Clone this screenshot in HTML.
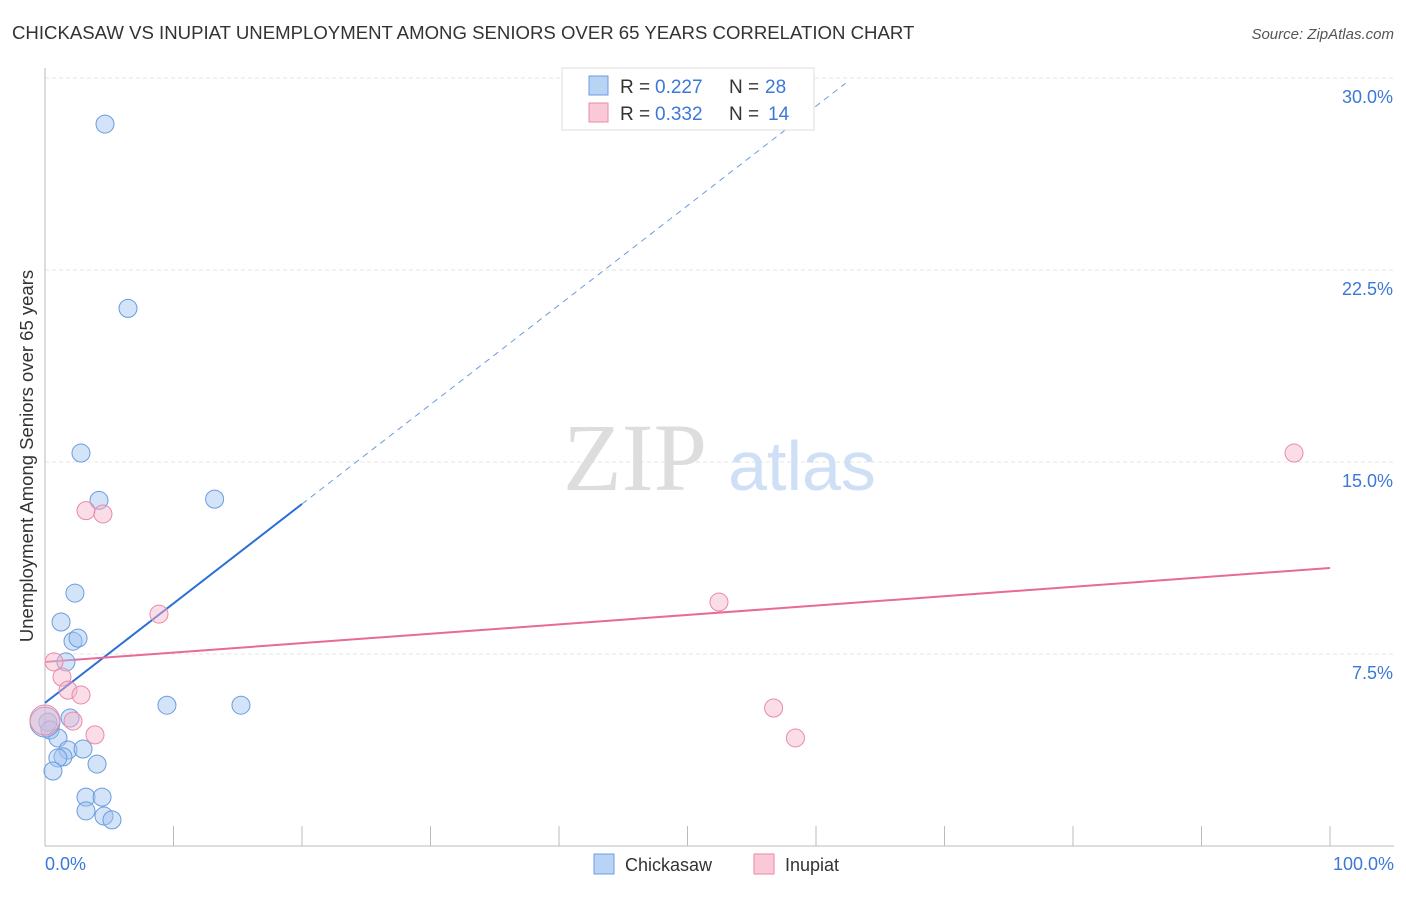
<!DOCTYPE html>
<html><head><meta charset="utf-8"><style>
body{margin:0;background:#fff;font-family:"Liberation Sans",sans-serif;}
</style></head><body>
<svg width="1406" height="892" xmlns="http://www.w3.org/2000/svg" style="font-family:'Liberation Sans',sans-serif">
<text x="12" y="39" font-size="18.6" fill="#333">CHICKASAW VS INUPIAT UNEMPLOYMENT AMONG SENIORS OVER 65 YEARS CORRELATION CHART</text>
<text x="1394" y="39" font-size="15" fill="#555" font-style="italic" text-anchor="end">Source: ZipAtlas.com</text>
<g id="grid"></g>
<text x="635" y="490" font-size="96" fill="#ddd" style="font-family:'Liberation Serif',serif" text-anchor="middle">ZIP</text>
<text x="802" y="490" font-size="70" fill="#cfdff5" text-anchor="middle">atlas</text>
<line x1="45" y1="68" x2="45" y2="846" stroke="#bbb"/>
<line x1="45" y1="846" x2="1394" y2="846" stroke="#bbb"/>
<g id="xt"></g><g id="lines"></g><g id="pts"></g>
<text x="33" y="456" font-size="18.5" fill="#333" text-anchor="middle" transform="rotate(-90 33 456)">Unemployment Among Seniors over 65 years</text>
<text x="45" y="870" font-size="18" fill="#3b78d8">0.0%</text>
<text x="1394" y="870" font-size="18" fill="#3b78d8" text-anchor="end">100.0%</text>
<g>
<rect x="562" y="68" width="252" height="62" fill="#fff" stroke="#ddd"/>
<rect x="589" y="76" width="19" height="19" fill="#b9d3f5" stroke="#6a9be0"/>
<text x="620" y="93" font-size="19" fill="#333">R = </text><text x="655" y="93" font-size="19" fill="#3b78d8">0.227</text>
<text x="729" y="93" font-size="19" fill="#333">N = </text><text x="765" y="93" font-size="19" fill="#3b78d8">28</text>
<rect x="589" y="103" width="19" height="19" fill="#f9c9d8" stroke="#e98aa8"/>
<text x="620" y="120" font-size="19" fill="#333">R = </text><text x="655" y="120" font-size="19" fill="#3b78d8">0.332</text>
<text x="729" y="120" font-size="19" fill="#333">N = </text><text x="768" y="120" font-size="19" fill="#3b78d8">14</text>
</g>
<g>
<rect x="594" y="854" width="20" height="20" fill="#b9d3f5" stroke="#6a9be0"/>
<text x="625" y="871" font-size="18" fill="#333">Chickasaw</text>
<rect x="754" y="854" width="20" height="20" fill="#f9c9d8" stroke="#e98aa8"/>
<text x="785" y="871" font-size="18" fill="#333">Inupiat</text>
</g>
</svg>
<script>
const yTicks=[7.5,15,22.5,30];
const yTickLabels=["7.5%","15.0%","22.5%","30.0%"];
const xTicks=[0,10,20,30,40,50,60,70,80,90,100];
const blueX=[4.67,6.46,2.8,4.2,13.2,2.33,1.25,2.18,2.57,1.63,9.49,15.25,1.95,0.23,0.39,1.01,1.79,2.96,4.05,1.4,1.0,0.62,3.19,4.44,3.19,4.59,5.21,0];
const blueY=[28.2,21.0,15.35,13.5,13.55,9.88,8.75,8.0,8.12,7.19,5.5,5.5,5.0,4.84,4.53,4.22,3.75,3.79,3.2,3.48,3.44,2.93,1.91,1.91,1.37,1.17,1.02,4.84];
const blueR=[9,9,9,9,9,9,9,9,9,9,9,9,9,9,9,9,9,9,9,9,9,9,9,9,9,9,9,15];
const pinkX=[3.19,4.51,8.87,0.7,1.32,1.79,2.8,2.18,3.89,52.45,56.7,58.4,97.2,0];
const pinkY=[13.1,12.97,9.06,7.19,6.6,6.09,5.9,4.88,4.34,9.53,5.39,4.22,15.35,4.92];
const pinkR=[9,9,9,9,9,9,9,9,9,9,9,9,9,15];
const blueLine=[5.59,13.36]; // y at x=0, x=20
const pinkLine=[7.19,10.86]; // y at x=0, x=100
const NS="http://www.w3.org/2000/svg";
const X=v=>45+v*12.85, Y=v=>846-v*25.6;
function mk(p,t,a){const e=document.createElementNS(NS,t);for(const k in a)e.setAttribute(k,a[k]);document.getElementById(p).appendChild(e);return e;}
yTicks.forEach((t,i)=>{
 const g=mk('grid','line',{x1:45,x2:1394,y1:Y(t),y2:Y(t),stroke:'#e4e4e4','stroke-dasharray':'4 3'});
 
 
 const l=mk('grid','text',{x:1393,y:Y(t)+25,'font-size':18,fill:'#3b78d8','text-anchor':'end'});
 l.textContent=yTickLabels[i];
 
 
});
xTicks.forEach(t=>{
 const e=mk('xt','line',{x1:X(t),x2:X(t),y1:826,y2:846,stroke:'#bbb'});
 
 
});
const slopeB=(blueLine[1]-blueLine[0])/20;
let e=mk('lines','line',{x1:X(0),y1:Y(blueLine[0]),x2:X(20),y2:Y(blueLine[1]),stroke:'#2a6fd6','stroke-width':2});


const xe=62.3;
e=mk('lines','line',{x1:X(20),y1:Y(blueLine[1]),x2:X(xe),y2:Y(blueLine[0]+slopeB*xe),stroke:'#6a9be0','stroke-width':1,'stroke-dasharray':'6 5'});


e=mk('lines','line',{x1:X(0),y1:Y(pinkLine[0]),x2:X(100),y2:Y(pinkLine[1]),stroke:'#e8699a','stroke-width':2});


blueX.forEach((x,i)=>{
 const c=mk('pts','circle',{cx:X(x),cy:Y(blueY[i]),r:blueR[i],fill:'rgba(160,196,240,0.45)',stroke:'#6a9be0','stroke-width':1});
 
 
});
pinkX.forEach((x,i)=>{
 const c=mk('pts','circle',{cx:X(x),cy:Y(pinkY[i]),r:pinkR[i],fill:'rgba(246,180,202,0.45)',stroke:'#e98aa8','stroke-width':1});
 
 
});
</script>
</body></html>
